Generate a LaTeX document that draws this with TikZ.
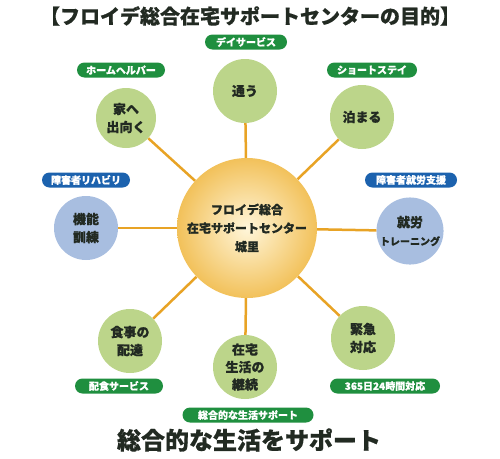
\documentclass[tikz,border=0pt]{standalone}
\usepackage{fontspec}
\setmainfont{Noto Sans CJK JP}[BoldFeatures={FakeBold=0.6}]
\definecolor{lgreen}{HTML}{BCD58A}
\definecolor{lblue}{HTML}{A8BEE0}
\definecolor{pgreen}{HTML}{1F8F3F}
\definecolor{pblue}{HTML}{1C62AE}
\definecolor{lineor}{HTML}{E8A325}
\definecolor{dark}{HTML}{222A22}
\definecolor{cin}{HTML}{FFF6DA}
\definecolor{cout}{HTML}{F2C15A}
\begin{document}
\begin{tikzpicture}[x=1pt,y=-1pt,
  outer/.style={circle, minimum size=64pt, inner sep=0pt, align=center,
    font=\bfseries\fontsize{13}{18}\selectfont, text=dark},
  gcirc/.style={outer, fill=lgreen},
  bcirc/.style={outer, fill=lblue},
  pill/.style={rounded corners=7.5pt, minimum height=15pt, inner sep=0pt,
    text=white, font=\bfseries\fontsize{10}{10}\selectfont},
  gpill/.style={pill, fill=pgreen},
  bpill/.style={pill, fill=pblue},
  conn/.style={draw=lineor, line width=2.5pt}]
\useasboundingbox (0,0) rectangle (500,458);
% title
\node[font=\bfseries\fontsize{20}{22}\selectfont, text=dark] (title) at (250,16) {【フロイデ総合在宅サポートセンターの目的】};
% center
\node[circle, minimum size=140pt, inner sep=0pt, inner color=cin, outer color=cout, align=center,
  font=\bfseries\fontsize{12}{18.5}\selectfont, text=dark] (c) at (247,228) {フロイデ総合\\在宅サポートセンター\\城里};
% outer circles
\node[gcirc] (kayou) at (245,91) {通う};
\node[gcirc, minimum size=60pt] (ie) at (126,118) {家へ\\出向く};
\node[gcirc] (tomaru) at (362,117) {泊まる};
\node[bcirc] (kino) at (86,228) {機能\\訓練};
\node[bcirc] (shuro) at (410,231) {就労\\{\fontsize{10}{18}\selectfont トレーニング}};
\node[gcirc] (shoku) at (130,341) {食事の\\配達};
\node[gcirc] (kinkyu) at (363,338) {緊急\\対応};
\node[gcirc, font=\bfseries\fontsize{13}{17.5}\selectfont] (zaitaku) at (245,367) {在宅\\生活の\\継続};
% pills
\node[gpill, minimum width=82pt] (p1) at (246,42) {デイサービス};
\node[gpill, minimum width=88pt] (p2) at (121,70) {ホームヘルパー};
\node[gpill, minimum width=90pt] (p3) at (372,70) {ショートステイ};
\node[bpill, minimum width=88pt] (p4) at (86,180) {障害者リハビリ};
\node[bpill, minimum width=92pt] (p5) at (411,180) {障害者就労支援};
\node[gpill, minimum width=88pt] (p6) at (119,386) {配食サービス};
\node[gpill, minimum width=110pt] (p7) at (385,386) {365日24時間対応};
\node[gpill, minimum width=131pt] (p8) at (248,415) {総合的な生活サポート};
% bottom text
\node[font=\bfseries\fontsize{24}{26}\selectfont, text=dark] (bottom) at (249,440) {総合的な生活をサポート};
% connectors drawn between borders
\foreach \n in {kayou,ie,tomaru,kino,shuro,shoku,kinkyu,zaitaku}
  \draw[conn] (c) -- (\n);
\end{tikzpicture}
\end{document}
